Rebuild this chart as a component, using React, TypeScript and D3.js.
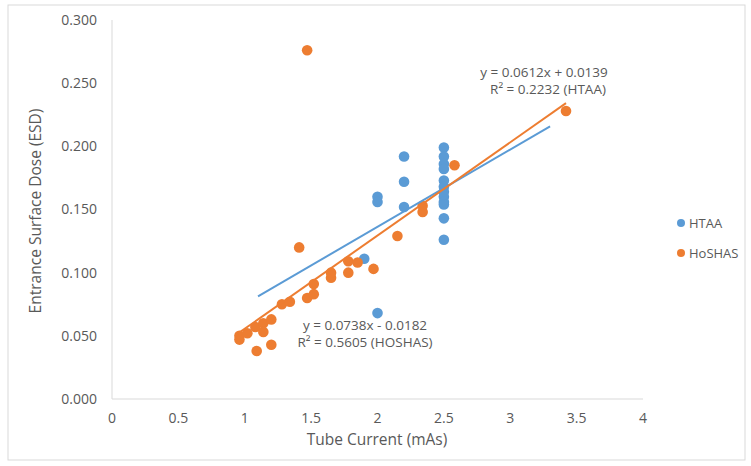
import * as d3 from 'd3';

// HTAA series
const htaaX = [2.0, 2.0, 2.2, 2.2, 2.2, 1.9, 2.0, 2.5, 2.5, 2.5, 2.5, 2.5, 2.5, 2.5, 2.5, 2.5, 2.5, 2.5, 2.5];
const htaaY = [0.160, 0.156, 0.192, 0.172, 0.152, 0.111, 0.068, 0.199, 0.192, 0.186, 0.182, 0.173, 0.168, 0.164, 0.160, 0.156, 0.154, 0.143, 0.126];

// HoSHAS series
const hoshasX = [0.96, 0.96, 1.02, 1.08, 1.14, 1.14, 1.2, 1.28, 1.34, 1.09, 1.2, 1.47, 1.52, 1.52, 1.65, 1.65, 1.78, 1.78, 1.85, 1.97, 1.41, 2.15, 2.34, 2.34, 2.58, 3.42, 1.47];
const hoshasY = [0.050, 0.047, 0.052, 0.057, 0.060, 0.053, 0.063, 0.075, 0.077, 0.038, 0.043, 0.080, 0.083, 0.091, 0.096, 0.100, 0.100, 0.109, 0.108, 0.103, 0.120, 0.129, 0.148, 0.153, 0.185, 0.228, 0.276];

// trend lines: [slope, intercept], x extent
const htaaTrend = [0.0612, 0.0139];
const htaaTrendX = [1.1, 3.3];
const hoshasTrend = [0.0738, -0.0182];
const hoshasTrendX = [0.95, 3.42];

const xTicks = [0, 0.5, 1, 1.5, 2, 2.5, 3, 3.5, 4];
const yTicks = [0, 0.05, 0.1, 0.15, 0.2, 0.25, 0.3];

const BLUE = '#5b9bd5';
const ORANGE = '#ed7d31';
const TEXT = '#595959';
const FONT = 'Open Sans, sans-serif';

export default function App() {
  const width = 751;
  const height = 466;
  const x = d3.scaleLinear().domain([0, 4]).range([112, 643]);
  const y = d3.scaleLinear().domain([0, 0.3]).range([399, 20]);

  const trendPath = (t: number[], ext: number[]) =>
    d3.line<number>()
      .x(d => x(d))
      .y(d => y(t[0] * d + t[1]))(ext) ?? '';

  const htaa = htaaX.map((v, i) => ({ x: v, y: htaaY[i] }));
  const hoshas = hoshasX.map((v, i) => ({ x: v, y: hoshasY[i] }));

  return (
    <svg width={width} height={height} style={{ position: 'absolute', left: 0, top: 0 }} fontFamily={FONT}>
      <rect x={8} y={5} width={737} height={455} fill="#fff" stroke="#d9d9d9" />

      {/* axes */}
      <line x1={x(0)} x2={x(4)} y1={y(0)} y2={y(0)} stroke="#d9d9d9" />
      <line x1={x(0)} x2={x(0)} y1={y(0)} y2={y(0.3)} stroke="#d9d9d9" />

      {yTicks.map(t => (
        <text key={t} x={97} y={y(t)} dy="0.35em" textAnchor="end" fontSize={14} fill={TEXT}>
          {d3.format('.3f')(t)}
        </text>
      ))}
      {xTicks.map(t => (
        <text key={t} x={x(t)} y={418} dy="0.35em" textAnchor="middle" fontSize={14} fill={TEXT}>
          {t}
        </text>
      ))}

      <text x={377} y={440} dy="0.35em" textAnchor="middle" fontSize={15.5} fill={TEXT}>Tube Current (mAs)</text>
      <text transform={`translate(36,211) rotate(-90)`} dy="0.35em" textAnchor="middle" fontSize={15.5} fill={TEXT}>
        Entrance Surface Dose (ESD)
      </text>

      {/* points */}
      {htaa.map((d, i) => (
        <circle key={'b' + i} cx={x(d.x)} cy={y(d.y)} r={5.3} fill={BLUE} />
      ))}
      {hoshas.map((d, i) => (
        <circle key={'o' + i} cx={x(d.x)} cy={y(d.y)} r={5.3} fill={ORANGE} />
      ))}

      {/* trend lines */}
      <path d={trendPath(htaaTrend, htaaTrendX)} stroke={BLUE} strokeWidth={2} fill="none" />
      <path d={trendPath(hoshasTrend, hoshasTrendX)} stroke={ORANGE} strokeWidth={2} fill="none" />

      {/* equations */}
      <text x={544} y={72} dy="0.35em" textAnchor="middle" fontSize={13.5} fill={TEXT}>y = 0.0612x + 0.0139</text>
      <text x={548} y={89.5} dy="0.35em" textAnchor="middle" fontSize={13.5} fill={TEXT}>R² = 0.2232 (HTAA)</text>
      <text x={365} y={325} dy="0.35em" textAnchor="middle" fontSize={13.5} fill={TEXT}>y = 0.0738x - 0.0182</text>
      <text x={365} y={342.5} dy="0.35em" textAnchor="middle" fontSize={13.5} fill={TEXT}>R² = 0.5605 (HOSHAS)</text>

      {/* legend */}
      <circle cx={681} cy={223} r={4} fill={BLUE} />
      <text x={689} y={223} dy="0.35em" fontSize={13} fill={TEXT}>HTAA</text>
      <circle cx={681} cy={253} r={4} fill={ORANGE} />
      <text x={689} y={253} dy="0.35em" fontSize={13} fill={TEXT}>HoSHAS</text>
    </svg>
  );
}
